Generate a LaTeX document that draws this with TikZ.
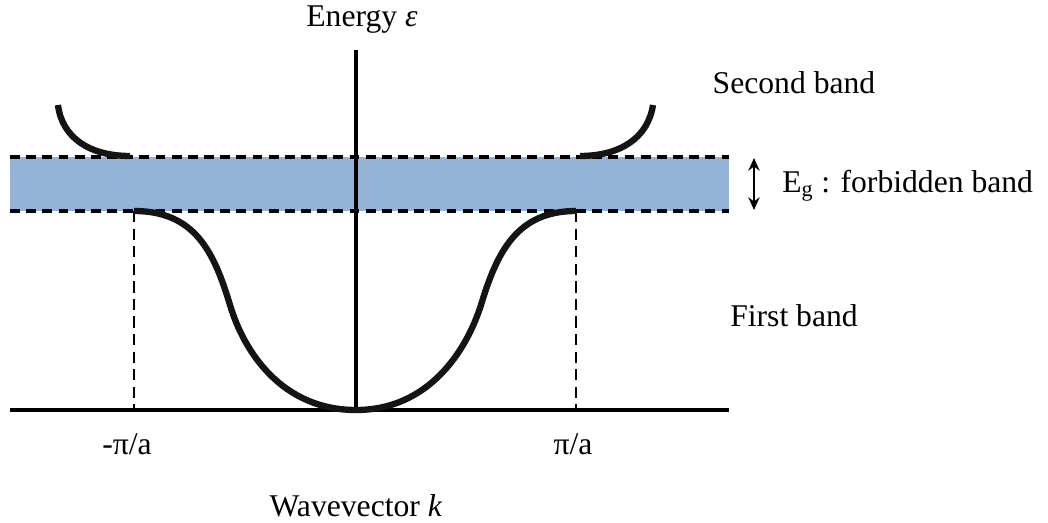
\documentclass[tikz,border=0pt]{standalone}
\usepackage{fontspec}
\setmainfont{Liberation Serif}
\usetikzlibrary{arrows.meta, positioning}
\definecolor{gapblue}{HTML}{95B3D7}
\tikzset{
    band_curve/.style={line width=4.5pt, color=black!92, line cap=butt},
    axis_line/.style={line width=2.3pt},
    gap_edge/.style={line width=2.6pt, dash pattern=on 7pt off 4.5pt},
    zone_edge/.style={line width=2.1pt, dash pattern=on 8pt off 4.5pt},
    lbl/.style={font=\fontsize{22.5}{27}\selectfont, inner sep=0pt}
}

\begin{document}
\begin{tikzpicture}[x=0.025cm, y=-0.025cm]
    \useasboundingbox (0,0) rectangle (1048,523);

    % forbidden band (energy gap)
    \fill[gapblue] (10,157) rectangle (729,211);
    \coordinate (gtl) at (10,157);
    \coordinate (gtr) at (729,157);
    \coordinate (gbl) at (10,211);
    \coordinate (gbr) at (729,211);
    \draw[gap_edge] (gtl) -- (gtr);
    \draw[gap_edge] (gbl) -- (gbr);

    % axes
    \coordinate (origin) at (356,410);
    \coordinate (ktop) at (356,50);
    \coordinate (kleft) at (10,410);
    \coordinate (kright) at (729,410);
    \draw[axis_line] (kleft) -- (kright);
    \draw[axis_line] (origin) -- (ktop);

    % zone boundaries
    \coordinate (zl) at (134,211);
    \coordinate (zr) at (576,211);
    \coordinate (zlb) at (134,410);
    \coordinate (zrb) at (576,410);
    \draw[zone_edge] (zl) -- (zlb);
    \draw[zone_edge] (zr) -- (zrb);

    % first band
    \draw[band_curve] (zl) .. controls (195,211) and (214,252) .. (230,305)
        .. controls (244,352) and (282,410) .. (origin)
        .. controls (428,410) and (466,352) .. (481,305)
        .. controls (497,252) and (517,211) .. (zr);

    % second band
    \draw[band_curve] (58,105) .. controls (62,138) and (90,156) .. (130,156);
    \draw[band_curve] (580,156) .. controls (620,156) and (648,138) .. (653,105);

    % gap arrow
    \coordinate (eg_top) at (754,158);
    \coordinate (eg_bot) at (754,210);
    \draw[line width=1.5pt, {Stealth[length=9pt,width=8pt]}-{Stealth[length=9pt,width=8pt]}] (eg_top) -- (eg_bot);

    % labels
    \node[lbl] (energy) at (362,20) {Energy \textit{ε}};
    \node[lbl] (second) at (794,83) {Second band};
    \node[lbl, anchor=west] (gap) at (782,186) {E\textsubscript{g} : forbidden band};
    \node[lbl] (first) at (794,316) {First band};
    \node[lbl] (minuspi) at (127,444) {-π/a};
    \node[lbl] (pluspi) at (573,444) {π/a};
    \node[lbl] (wavevec) at (356,506) {Wavevector \textit{k}};
\end{tikzpicture}
\end{document}
